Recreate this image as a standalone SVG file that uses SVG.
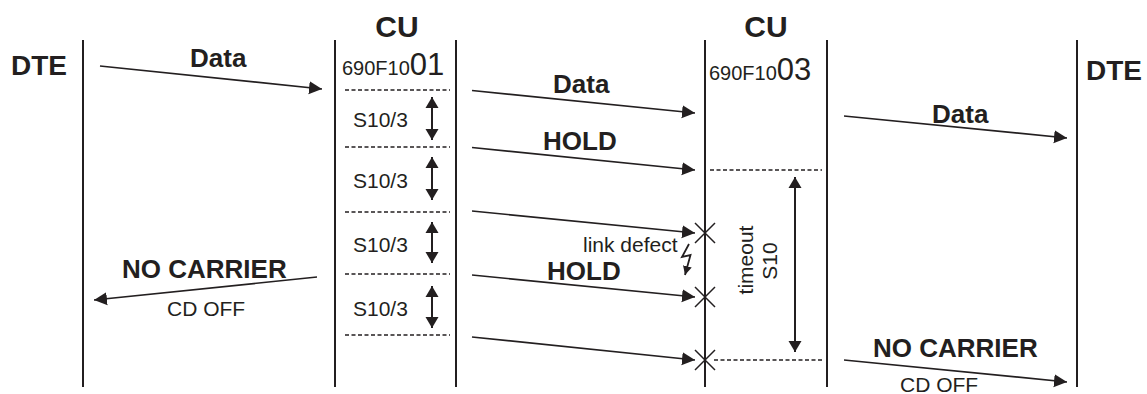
<svg xmlns="http://www.w3.org/2000/svg" width="1147" height="394" viewBox="0 0 1147 394">
<defs>
<style>
text{font-family:"Liberation Sans",Arial,sans-serif;fill:#231f20}
.b{font-weight:bold;font-size:26px}
.r{font-size:21px}
.life{stroke:#231f20;stroke-width:2;fill:none}
.msg{stroke:#231f20;stroke-width:1.7;fill:none;marker-end:url(#ah)}
.dash{stroke:#231f20;stroke-width:1.5;stroke-dasharray:4 2.5;fill:none}
.dbl{stroke:#231f20;stroke-width:2;fill:none;marker-start:url(#sh);marker-end:url(#sh)}
.x{stroke:#231f20;stroke-width:1.5;fill:none}
</style>
<marker id="ah" markerUnits="userSpaceOnUse" markerWidth="14" markerHeight="14" refX="13" refY="7" orient="auto"><path d="M0,0.5 L13,7 L0,13.5 z" fill="#231f20"/></marker>
<marker id="sh" markerUnits="userSpaceOnUse" markerWidth="12" markerHeight="14" refX="11" refY="7" orient="auto-start-reverse"><path d="M0,0.5 L11,7 L0,13.5 z" fill="#231f20"/></marker>
<marker id="lh" markerUnits="userSpaceOnUse" markerWidth="10" markerHeight="10" refX="9" refY="5" orient="auto"><path d="M0,0.5 L9,5 L0,9.5 z" fill="#231f20"/></marker>
</defs>
<g id="dte-left">
<line class="life" x1="83" y1="40" x2="83" y2="387"/>
<text class="b" x="11" y="75" style="font-size:28px">DTE</text>
</g>
<g id="cu-1">
<line class="life" x1="335" y1="40" x2="335" y2="387"/>
<line class="life" x1="456" y1="40" x2="456" y2="387"/>
<text class="b" x="397" y="37" text-anchor="middle" style="font-size:30px">CU</text>
<text x="342" y="75"><tspan style="font-size:20px">690F10</tspan><tspan style="font-size:31px">01</tspan></text>
<line class="dash" x1="345" y1="90" x2="450" y2="90"/>
<line class="dash" x1="345" y1="147" x2="450" y2="147"/>
<line class="dash" x1="345" y1="212" x2="450" y2="212"/>
<line class="dash" x1="345" y1="274" x2="450" y2="274"/>
<line class="dash" x1="345" y1="335" x2="450" y2="335"/>
<text class="r" x="353" y="127">S10/3</text>
<text class="r" x="353" y="188">S10/3</text>
<text class="r" x="353" y="252">S10/3</text>
<text class="r" x="353" y="316">S10/3</text>
<line class="dbl" x1="432" y1="97" x2="432" y2="140"/>
<line class="dbl" x1="432" y1="157" x2="432" y2="200"/>
<line class="dbl" x1="432" y1="222" x2="432" y2="263"/>
<line class="dbl" x1="432" y1="286" x2="432" y2="328"/>
</g>
<g id="cu-2">
<line class="life" x1="705" y1="40" x2="705" y2="387"/>
<line class="life" x1="827" y1="40" x2="827" y2="387"/>
<text class="b" x="766" y="37" text-anchor="middle" style="font-size:30px">CU</text>
<text x="709" y="80"><tspan style="font-size:20px">690F10</tspan><tspan style="font-size:31px">03</tspan></text>
<line class="dash" x1="710" y1="170" x2="822" y2="170"/>
<line class="dash" x1="714" y1="360" x2="822" y2="360"/>
<line class="dbl" x1="795" y1="177" x2="795" y2="352"/>
<text class="r" transform="translate(753,260) rotate(-90)" text-anchor="middle">timeout</text>
<text class="r" transform="translate(777,261) rotate(-90)" text-anchor="middle">S10</text>
<path class="x" d="M695,223 L715,243 M715,223 L695,243"/>
<path class="x" d="M695,287 L715,307 M715,287 L695,307"/>
<path class="x" d="M695,350 L715,370 M715,350 L695,370"/>
</g>
<g id="dte-right">
<line class="life" x1="1077" y1="40" x2="1077" y2="387"/>
<text class="b" x="1086" y="80" style="font-size:28px">DTE</text>
</g>
<g id="connectors">
<line class="msg" x1="100" y1="66" x2="322" y2="89"/>
<text class="b" x="190" y="67">Data</text>
<line class="msg" x1="472" y1="90.5" x2="695" y2="113"/>
<text class="b" x="553" y="93">Data</text>
<line class="msg" x1="472" y1="147.5" x2="695" y2="170"/>
<text class="b" x="543" y="150">HOLD</text>
<line class="msg" x1="472" y1="211" x2="695" y2="233"/>
<line class="msg" x1="472" y1="275" x2="695" y2="297"/>
<text class="b" x="547" y="280">HOLD</text>
<line class="msg" x1="472" y1="337" x2="695" y2="360"/>
<text class="r" x="583" y="252">link defect</text>
<polyline points="689,244 682,257 690.5,255 685,275" fill="none" stroke="#231f20" stroke-width="1.8" marker-end="url(#lh)"/>
<line class="msg" x1="844" y1="116" x2="1067" y2="138"/>
<text class="b" x="932" y="123">Data</text>
<line class="msg" x1="317" y1="277" x2="94" y2="300"/>
<text class="b" x="122" y="278">NO CARRIER</text>
<text class="r" x="167" y="316">CD OFF</text>
<line class="msg" x1="844" y1="360" x2="1067" y2="382"/>
<text class="b" x="873" y="357">NO CARRIER</text>
<text class="r" x="900" y="392">CD OFF</text>
</g>
</svg>
